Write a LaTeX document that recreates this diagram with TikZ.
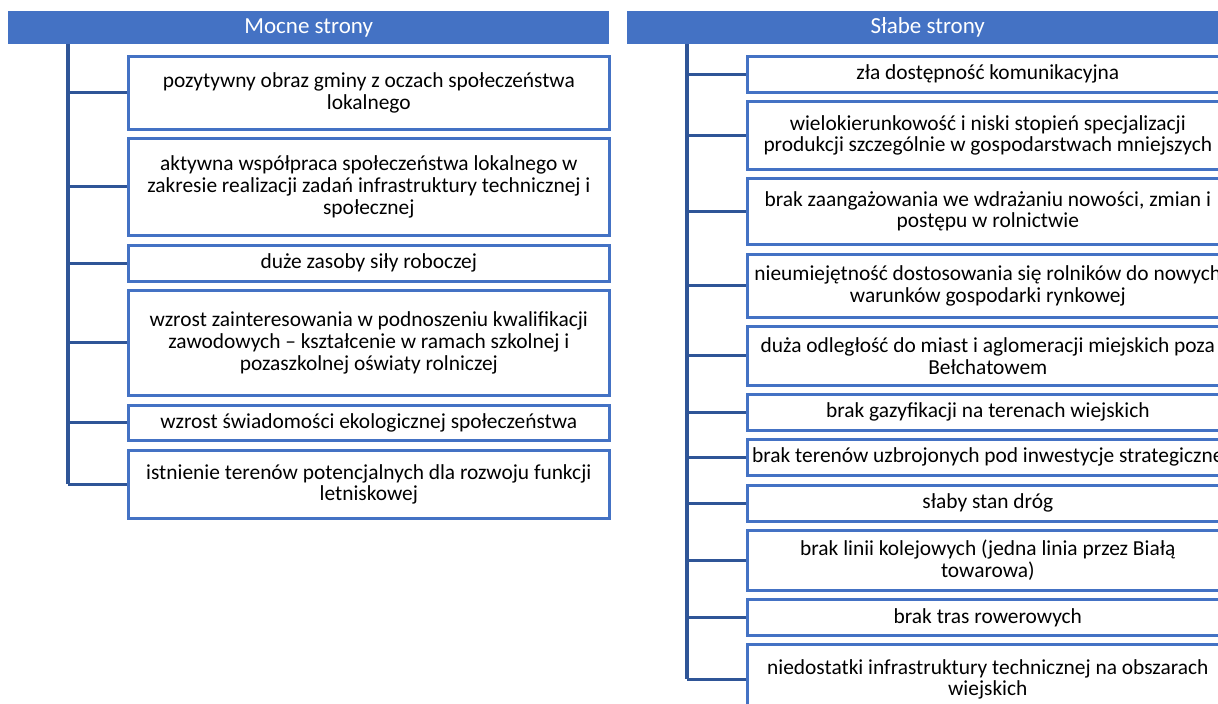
\documentclass[tikz,border=0pt]{standalone}
\usepackage{fontspec}
\setmainfont{Carlito}
\definecolor{hdrblue}{RGB}{68,114,196}
\definecolor{linkblue}{RGB}{47,85,151}
\begin{document}
\begin{tikzpicture}[x=1pt,y=1pt,
  hdr/.style={fill=hdrblue,draw=none,text=white,anchor=north west,minimum width=601pt,minimum height=33pt,inner sep=0pt,font=\fontsize{23}{26}\selectfont},
  item/.style={draw=hdrblue,line width=2.6pt,fill=white,anchor=north west,minimum width=481pt,inner sep=0pt,align=center,font=\fontsize{21.4}{21.7}\selectfont},
  link/.style={draw=linkblue,line width=3pt},
  trunk/.style={draw=linkblue,line width=3.5pt}]
\useasboundingbox (0,0) rectangle (1218,-704);
\clip (0,0) rectangle (1218,-704);
% headers
\node[hdr] (hL) at (8,-11) {Mocne strony};
\node[hdr] (hR) at (627,-11) {Słabe strony};
\coordinate (tL) at (68,-44);
\coordinate (tR) at (687,-44);
% left items
\node[item,minimum height=73pt] (L1) at (127,-55) {pozytywny obraz gminy z oczach społeczeństwa\\lokalnego};
\node[item,minimum height=97pt] (L2) at (127,-137) {aktywna współpraca społeczeństwa lokalnego w\\zakresie realizacji zadań infrastruktury technicznej i\\społecznej};
\node[item,minimum height=36pt] (L3) at (127,-244) {duże zasoby siły roboczej};
\node[item,minimum height=105pt] (L4) at (127,-289) {wzrost zainteresowania w podnoszeniu kwalifikacji\\zawodowych – kształcenie w ramach szkolnej i\\pozaszkolnej oświaty rolniczej};
\node[item,minimum height=35pt] (L5) at (127,-404) {wzrost świadomości ekologicznej społeczeństwa};
\node[item,minimum height=68pt] (L6) at (127,-449) {istnienie terenów potencjalnych dla rozwoju funkcji\\letniskowej};
% right items
\node[item,minimum height=36pt] (R1) at (746,-55) {zła dostępność komunikacyjna};
\node[item,minimum height=68pt] (R2) at (746,-100) {wielokierunkowość i niski stopień specjalizacji\\produkcji szczególnie w gospodarstwach mniejszych};
\node[item,minimum height=66pt] (R3) at (746,-177) {brak zaangażowania we wdrażaniu nowości, zmian i\\postępu w rolnictwie};
\node[item,minimum height=63pt] (R4) at (746,-253) {nieumiejętność dostosowania się rolników do nowych\\warunków gospodarki rynkowej};
\node[item,minimum height=59pt] (R5) at (746,-325) {duża odległość do miast i aglomeracji miejskich poza\\Bełchatowem};
\node[item,minimum height=36pt] (R6) at (746,-393) {brak gazyfikacji na terenach wiejskich};
\node[item,minimum height=36pt] (R7) at (746,-438) {brak terenów uzbrojonych pod inwestycje strategiczne};
\node[item,minimum height=36pt] (R8) at (746,-484) {słaby stan dróg};
\node[item,minimum height=60pt] (R9) at (746,-529) {brak linii kolejowych (jedna linia przez Białą\\towarowa)};
\node[item,minimum height=36pt] (R10) at (746,-598) {brak tras rowerowych};
\node[item,minimum height=70pt] (R11) at (746,-643) {niedostatki infrastruktury technicznej na obszarach\\wiejskich};
% trunks
\draw[trunk] (tL) -- (tL |- L6.west);
\draw[trunk] (tR) -- (tR |- R11.west);
% connectors
\foreach \n in {L1,L2,L3,L4,L5,L6}{\draw[link] (tL |- \n.west) -- (\n.west);}
\foreach \n in {R1,R2,R3,R4,R5,R6,R7,R8,R9,R10,R11}{\draw[link] (tR |- \n.west) -- (\n.west);}
\end{tikzpicture}
\end{document}
